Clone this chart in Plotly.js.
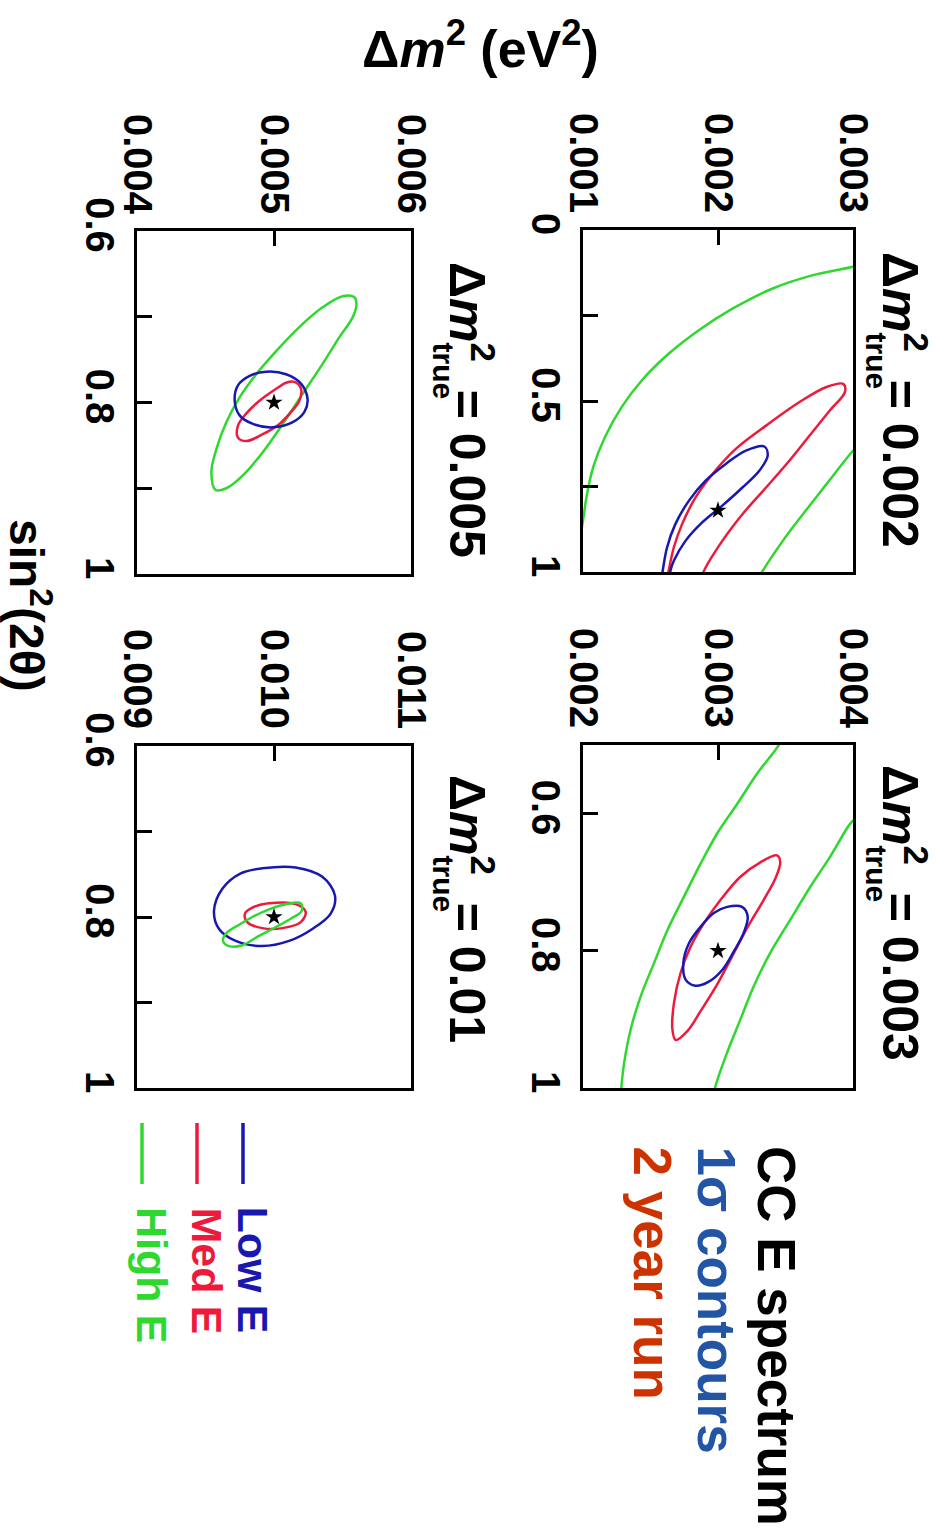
<!DOCTYPE html>
<html><head><meta charset="utf-8">
<script src="https://cdn.plot.ly/plotly-3.0.1.min.js"></script>
<style>html,body{margin:0;padding:0;background:#fff}</style>
</head><body><div id="chart" style="width:936px;height:1534px"></div>
<script>
// ---- Data ----
// Panel A: dm2_true = 0.002
const aGreenOuterDm = [0.00310, 0.00299, 0.002704, 0.002405, 0.002107, 0.001858, 0.001634, 0.001435, 0.001286, 0.001162, 0.001075, 0.001025, 0.001007, 0.00098];
const aGreenOuterS  = [0.095, 0.108, 0.132, 0.171, 0.230, 0.293, 0.362, 0.440, 0.518, 0.606, 0.694, 0.782, 0.831, 0.90];
const aGreenInnerDm = [0.00305, 0.00299, 0.002804, 0.002629, 0.00248, 0.002331, 0.0023];
const aGreenInnerS  = [0.625, 0.650, 0.743, 0.831, 0.909, 0.997, 1.02];
const aRedDm = [0.00162, 0.001634, 0.001672, 0.001734, 0.001834, 0.001958, 0.002132, 0.002356, 0.002604, 0.002804, 0.002928, 0.00294, 0.002828, 0.002679, 0.00253, 0.002356, 0.002181, 0.002032, 0.001896, 0.00188];
const aRedS  = [1.02, 0.997, 0.929, 0.860, 0.782, 0.714, 0.640, 0.572, 0.503, 0.459, 0.450, 0.474, 0.528, 0.601, 0.674, 0.753, 0.831, 0.909, 0.997, 1.02];
const aBlueDm = [0.00158, 0.00159, 0.001622, 0.001684, 0.001784, 0.001908, 0.002058, 0.002207, 0.002343, 0.002368, 0.002306, 0.002181, 0.002032, 0.001883, 0.001759, 0.001672, 0.001647, 0.00164];
const aBlueS  = [1.02, 0.997, 0.929, 0.860, 0.792, 0.733, 0.684, 0.645, 0.633, 0.660, 0.704, 0.753, 0.806, 0.855, 0.909, 0.968, 0.997, 1.02];

// Panel B: dm2_true = 0.003
const bGreenLeftDm = [0.00348, 0.003437, 0.003289, 0.003142, 0.002994, 0.002871, 0.002748, 0.002625, 0.002526, 0.002428, 0.002354, 0.002305, 0.002285, 0.00228];
const bGreenLeftS  = [0.49, 0.504, 0.542, 0.586, 0.629, 0.673, 0.721, 0.770, 0.818, 0.866, 0.914, 0.963, 0.997, 1.01];
const bGreenRightDm = [0.00402, 0.003978, 0.00383, 0.003683, 0.003535, 0.003387, 0.003264, 0.003166, 0.003068, 0.002982, 0.00297];
const bGreenRightS  = [0.607, 0.615, 0.663, 0.707, 0.755, 0.803, 0.852, 0.900, 0.948, 0.997, 1.01];
const bRedDm = [0.003437, 0.003314, 0.003166, 0.003018, 0.002895, 0.002797, 0.002723, 0.002674, 0.002662, 0.002686, 0.002773, 0.002871, 0.002994, 0.003105, 0.003215, 0.003338, 0.003424, 0.003461, 0.003437];
const bRedS  = [0.661, 0.671, 0.692, 0.726, 0.760, 0.794, 0.832, 0.876, 0.914, 0.930, 0.917, 0.888, 0.849, 0.808, 0.767, 0.726, 0.695, 0.671, 0.661];
const bBlueDm = [0.003178, 0.003068, 0.002969, 0.002871, 0.002785, 0.002743, 0.00276, 0.002834, 0.002932, 0.003031, 0.003117, 0.00319, 0.00322, 0.003178];
const bBlueS  = [0.736, 0.736, 0.745, 0.765, 0.789, 0.818, 0.842, 0.851, 0.845, 0.828, 0.801, 0.774, 0.750, 0.736];

// Panel C: dm2_true = 0.005
const cGreenDm = [0.005585, 0.0055, 0.005355, 0.005185, 0.005016, 0.00487, 0.004749, 0.004652, 0.00458, 0.004543, 0.004574, 0.004652, 0.004773, 0.004918, 0.005064, 0.005209, 0.005355, 0.005476, 0.005573, 0.005602, 0.005585];
const cGreenS  = [0.677, 0.676, 0.689, 0.712, 0.740, 0.767, 0.794, 0.823, 0.854, 0.881, 0.902, 0.900, 0.885, 0.858, 0.825, 0.790, 0.755, 0.724, 0.701, 0.685, 0.677];
const cRedDm = [0.005149, 0.005197, 0.005185, 0.005125, 0.00504, 0.004918, 0.004797, 0.004737, 0.004737, 0.004797, 0.004894, 0.005016, 0.005088, 0.005149];
const cRedS  = [0.776, 0.784, 0.798, 0.811, 0.825, 0.837, 0.845, 0.841, 0.827, 0.813, 0.798, 0.784, 0.777, 0.776];
const cBlueDm = [0.004943, 0.005088, 0.005197, 0.005245, 0.005222, 0.005137, 0.004991, 0.004846, 0.004749, 0.004713, 0.004737, 0.004822, 0.004943];
const cBlueS  = [0.764, 0.767, 0.778, 0.796, 0.811, 0.823, 0.829, 0.825, 0.815, 0.798, 0.780, 0.769, 0.764];

// Panel D: dm2_true = 0.01
const dGreenDm = [0.010195, 0.010202, 0.010122, 0.010012, 0.009891, 0.009769, 0.009672, 0.009628, 0.009652, 0.009745, 0.009842, 0.009964, 0.010086, 0.010195];
const dGreenS  = [0.784, 0.793, 0.802, 0.812, 0.822, 0.833, 0.834, 0.828, 0.819, 0.809, 0.800, 0.791, 0.785, 0.784];
const dRedDm = [0.009964, 0.010158, 0.010231, 0.010195, 0.010061, 0.009915, 0.009805, 0.009788, 0.009842, 0.009964];
const dRedS  = [0.784, 0.785, 0.794, 0.806, 0.813, 0.813, 0.806, 0.796, 0.789, 0.784];
const dBlueDm = [0.009915, 0.010158, 0.010353, 0.010445, 0.010414, 0.01028, 0.01011, 0.009915, 0.00972, 0.009599, 0.009562, 0.009623, 0.009757, 0.009915];
const dBlueS  = [0.743, 0.742, 0.753, 0.775, 0.796, 0.814, 0.828, 0.834, 0.828, 0.814, 0.793, 0.767, 0.749, 0.743];

// True points (stars)
const trueDm = [0.002, 0.003, 0.005, 0.010];
const trueS  = [0.82, 0.80, 0.80, 0.80];

// Axis ranges and ticks
const dmRanges = [[0.001, 0.003], [0.002, 0.004], [0.004, 0.006], [0.009, 0.011]];
const dmTicks  = [[0.001, 0.002, 0.003], [0.002, 0.003, 0.004], [0.004, 0.005, 0.006], [0.009, 0.010, 0.011]];
const sRanges  = [[1, 0], [1, 0.5], [1, 0.6], [1, 0.6]];
const sTickVals = [[0, 0.5, 1], [0.6, 0.8, 1], [0.6, 0.8, 1], [0.6, 0.8, 1]];
const sTickText = [['0', '0.5', '1'], ['0.6', '0.8', '1'], ['0.6', '0.8', '1'], ['0.6', '0.8', '1']];
const sMinorVals = [[0.25, 0.75], [], [0.7, 0.9], [0.7, 0.9]];
const panelTitles = ['0.002', '0.003', '0.005', '0.01'];
const legendNames = ['Low E', 'Med E', 'High E'];
const headerLines = ['CC E spectrum', '1σ contours', '2 year run'];

// ---- Styles ----
const FONT = 'Liberation Sans, Arial, sans-serif';
const GREEN = '#2fd82f', RED = '#ee1a3c', BLUE = '#1818b0';
const W = 936, H = 1534;
const px = v => v / W, py = v => 1 - v / H;

function line(xs, ys, color, ax) {
  return {type: 'scatter', mode: 'lines', x: xs, y: ys, xaxis: 'x' + ax, yaxis: 'y' + ax,
    line: {color: color, width: 2.5, shape: 'spline', smoothing: 1}, showlegend: false, hoverinfo: 'skip'};
}
function star(i, ax) {
  return {type: 'scatter', mode: 'markers', x: [trueDm[i]], y: [trueS[i]], xaxis: 'x' + ax, yaxis: 'y' + ax,
    marker: {symbol: 'star', size: 13, color: '#000'}, showlegend: false, hoverinfo: 'skip'};
}

const traces = [
  line(aGreenOuterDm, aGreenOuterS, GREEN, ''), line(aGreenInnerDm, aGreenInnerS, GREEN, ''),
  line(aRedDm, aRedS, RED, ''), line(aBlueDm, aBlueS, BLUE, ''), star(0, ''),
  line(bGreenLeftDm, bGreenLeftS, GREEN, '2'), line(bGreenRightDm, bGreenRightS, GREEN, '2'),
  line(bRedDm, bRedS, RED, '2'), line(bBlueDm, bBlueS, BLUE, '2'), star(1, '2'),
  line(cGreenDm, cGreenS, GREEN, '3'), line(cRedDm, cRedS, RED, '3'), line(cBlueDm, cBlueS, BLUE, '3'), star(2, '3'),
  line(dBlueDm, dBlueS, BLUE, '4'), line(dRedDm, dRedS, RED, '4'), line(dGreenDm, dGreenS, GREEN, '4'), star(3, '4')
];

// panel boxes in pixels: [left, right, top, bottom]
const boxes = [[583, 853, 230, 572], [583, 853, 745, 1088], [137, 411, 231, 574], [137, 411, 746, 1088]];
const tickFont = {family: FONT, size: 40, color: '#000', weight: 'bold'};
const layout = {width: W, height: H, autosize: false, margin: {l: 0, r: 0, t: 0, b: 0},
  paper_bgcolor: '#fff', plot_bgcolor: '#fff', showlegend: false, annotations: [], shapes: []};

boxes.forEach((b, i) => {
  const sfx = i === 0 ? '' : String(i + 1);
  layout['xaxis' + sfx] = {domain: [px(b[0]), px(b[1])], range: dmRanges[i], side: 'top', anchor: 'y' + sfx,
    tickmode: 'array', tickvals: dmTicks[i], tickformat: '.3f', tickangle: 90,
    ticks: 'inside', ticklen: 15, tickwidth: 3, tickcolor: '#000',
    showline: true, linewidth: 3, linecolor: '#000', mirror: true, showgrid: false, zeroline: false,
    tickfont: tickFont, fixedrange: true};
  const yax = {domain: [py(b[3]), py(b[2])], range: sRanges[i], anchor: 'x' + sfx,
    tickmode: 'array', tickvals: sTickVals[i], ticktext: sTickText[i], tickangle: 90,
    ticks: 'inside', ticklen: 15, tickwidth: 3, tickcolor: '#000',
    showline: true, linewidth: 3, linecolor: '#000', mirror: true, showgrid: false, zeroline: false,
    tickfont: tickFont, fixedrange: true};
  if (sMinorVals[i].length) {
    yax.minor = {tickmode: 'array', tickvals: sMinorVals[i], ticks: 'inside', ticklen: 15, tickwidth: 3, tickcolor: '#000', showgrid: false};
  }
  layout['yaxis' + sfx] = yax;
});

const A = layout.annotations;
// Shared axis titles
A.push({xref: 'paper', yref: 'paper', x: px(481), y: py(45), xanchor: 'center', yanchor: 'middle', showarrow: false,
  text: 'Δ<i>m</i><sup>2</sup> (eV<sup>2</sup>)', font: {family: FONT, size: 52, color: '#000', weight: 'bold'}});
A.push({xref: 'paper', yref: 'paper', x: px(30), y: py(605), xanchor: 'center', yanchor: 'middle', showarrow: false, textangle: 90,
  text: 'sin<sup>2</sup>(2θ)', font: {family: FONT, size: 48, color: '#000', weight: 'bold'}});

// Panel titles (rotated)
const titlePos = [[904, 250], [904, 763], [471, 260], [471, 773]];
titlePos.forEach((p, i) => {
  A.push({xref: 'paper', yref: 'paper', x: px(p[0]), y: py(p[1]), xanchor: 'center', yanchor: 'top', showarrow: false, textangle: 90,
    text: 'Δ<i>m</i><sup>2</sup>  = ' + panelTitles[i], font: {family: FONT, size: 50, color: '#000', weight: 'bold'}});
  A.push({xref: 'paper', yref: 'paper', x: px(p[0] - 28), y: py(p[1] + 80), xanchor: 'center', yanchor: 'top', showarrow: false, textangle: 90,
    text: 'true', font: {family: FONT, size: 30, color: '#000', weight: 'bold'}});
});

// Header text block
const headerColors = ['#000000', '#2255a4', '#cc3300'];
const headerX = [777, 716, 652];
headerLines.forEach((t, i) => {
  A.push({xref: 'paper', yref: 'paper', x: px(headerX[i]), y: py(1144), xanchor: 'center', yanchor: 'top', showarrow: false, textangle: 90,
    text: t, font: {family: FONT, size: 53, color: headerColors[i], weight: 'bold'}});
});

// Legend
const legColors = [BLUE, RED, GREEN];
const legX = [243, 197, 142];
legendNames.forEach((t, i) => {
  layout.shapes.push({type: 'line', xref: 'paper', yref: 'paper', x0: px(legX[i]), x1: px(legX[i]), y0: py(1123), y1: py(1184),
    line: {color: legColors[i], width: 3.5}});
  A.push({xref: 'paper', yref: 'paper', x: px(legX[i] + 10), y: py(1205), xanchor: 'center', yanchor: 'top', showarrow: false, textangle: 90,
    text: t, font: {family: FONT, size: 43, color: legColors[i], weight: 'bold'}});
});

Plotly.newPlot('chart', traces, layout, {staticPlot: true, displayModeBar: false});
</script></body></html>
